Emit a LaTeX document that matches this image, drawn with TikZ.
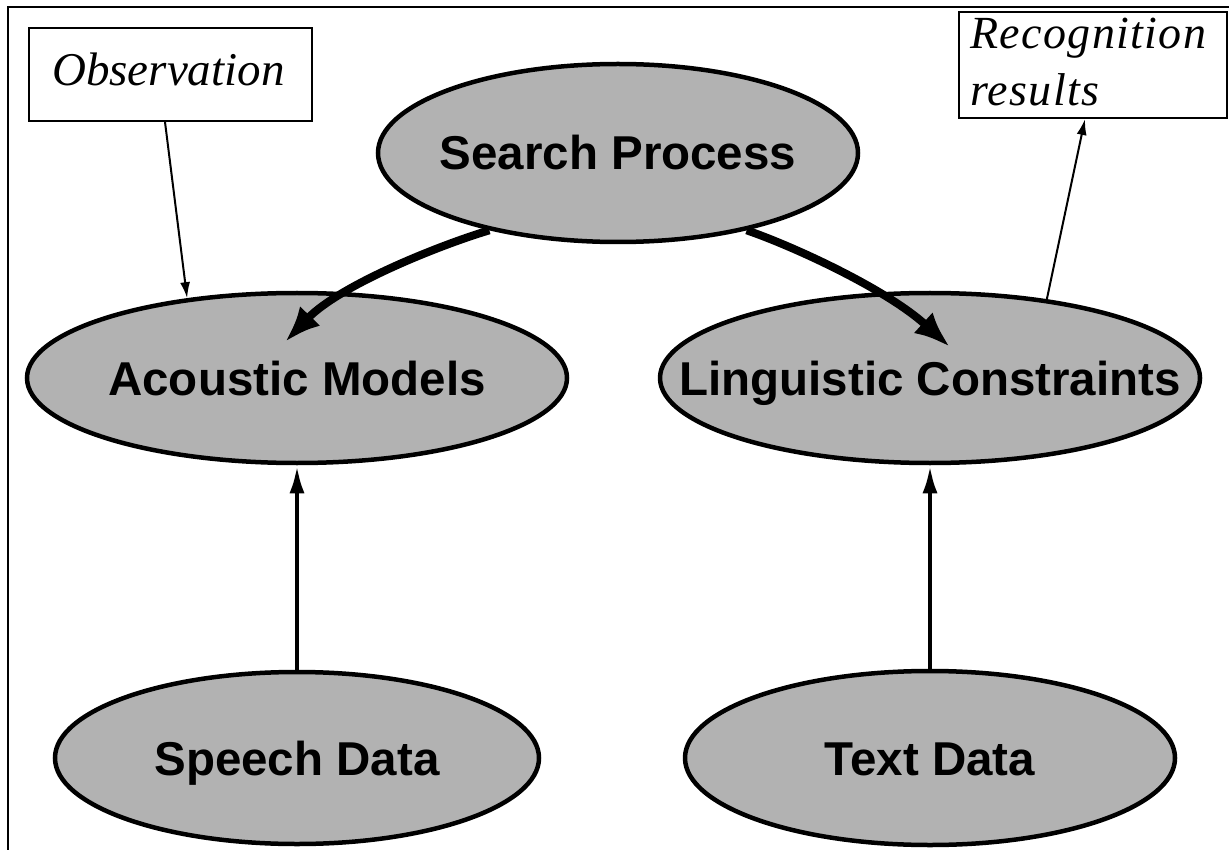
\documentclass[tikz,border=0pt]{standalone}
\usepackage{fontspec}
\setmainfont{Liberation Serif}
\newfontfamily\helv{Liberation Sans}
\newfontfamily\recfont[LetterSpace=3]{Liberation Serif}
\usetikzlibrary{shapes.geometric,arrows.meta}
\begin{document}
\begin{tikzpicture}[x=1pt,y=-1pt,
  blob/.style={ellipse, draw=black, line width=4.5pt, fill=black!30,
    inner xsep=-300pt, inner ysep=-60pt,
    text height=34pt, text depth=0pt,
    font=\helv\bfseries\fontsize{47.5}{50}\selectfont},
  tagbox/.style={draw=black, line width=2pt, inner sep=0pt, fill=white},
  tagtext/.style={inner sep=0pt, font=\itshape\fontsize{47}{58}\selectfont},
  rectext/.style={inner sep=0pt, font=\recfont\itshape\fontsize{46}{58}\selectfont},
  thinarrow/.style={line width=2pt, -{Latex[length=16pt,width=10pt]}},
  midarrow/.style={line width=4.5pt, -{Latex[length=28pt,width=15pt]}},
  bigarrow/.style={line width=8pt, -{Latex[length=36pt,width=28pt]}},
  framestyle/.style={line width=2pt}
]
\useasboundingbox (0,0) rectangle (1229,850);
\draw[framestyle] (8,850) -- (8,7) -- (1229,7);

\node[blob, minimum width=480pt, minimum height=178pt] (S) at (618,153) {Search Process};
\node[blob, minimum width=540pt, minimum height=170pt] (A) at (297,378) {Acoustic Models};
\node[blob, minimum width=540pt, minimum height=170pt] (L) at (930,378) {Linguistic Constraints};
\node[blob, minimum width=484pt, minimum height=172pt] (SD) at (297,758) {Speech Data};
\node[blob, minimum width=490pt, minimum height=174pt] (TD) at (930,758) {Text Data};

\node[tagbox, minimum width=283pt, minimum height=93pt] (obsbox) at (170.5,74.5) {};
\node[tagtext, anchor=base west] (obstext) at (52,86) {Observation};
\node[tagbox, minimum width=268pt, minimum height=106pt] (recbox) at (1093,65) {};
\node[rectext, anchor=base west] (rectext1) at (970,49) {Recognition};
\node[rectext, anchor=base west] (rectext2) at (970,106) {results};

\draw[thinarrow] ([xshift=-5.5pt]obsbox.south) -- (A.144);
\draw[thinarrow] (L.34) -- ([xshift=-8pt]recbox.south);

\draw[midarrow] (SD.north) -- (A.south);
\draw[midarrow] (TD.north) -- (L.south);

\draw[bigarrow] (S.-149.5) .. controls (440,245) and (340,285) .. ([shift={(-12,-36)}]A.center);
\draw[bigarrow] (S.-31.7) .. controls (790,245) and (885,288) .. ([shift={(20,-31)}]L.center);
\end{tikzpicture}
\end{document}
